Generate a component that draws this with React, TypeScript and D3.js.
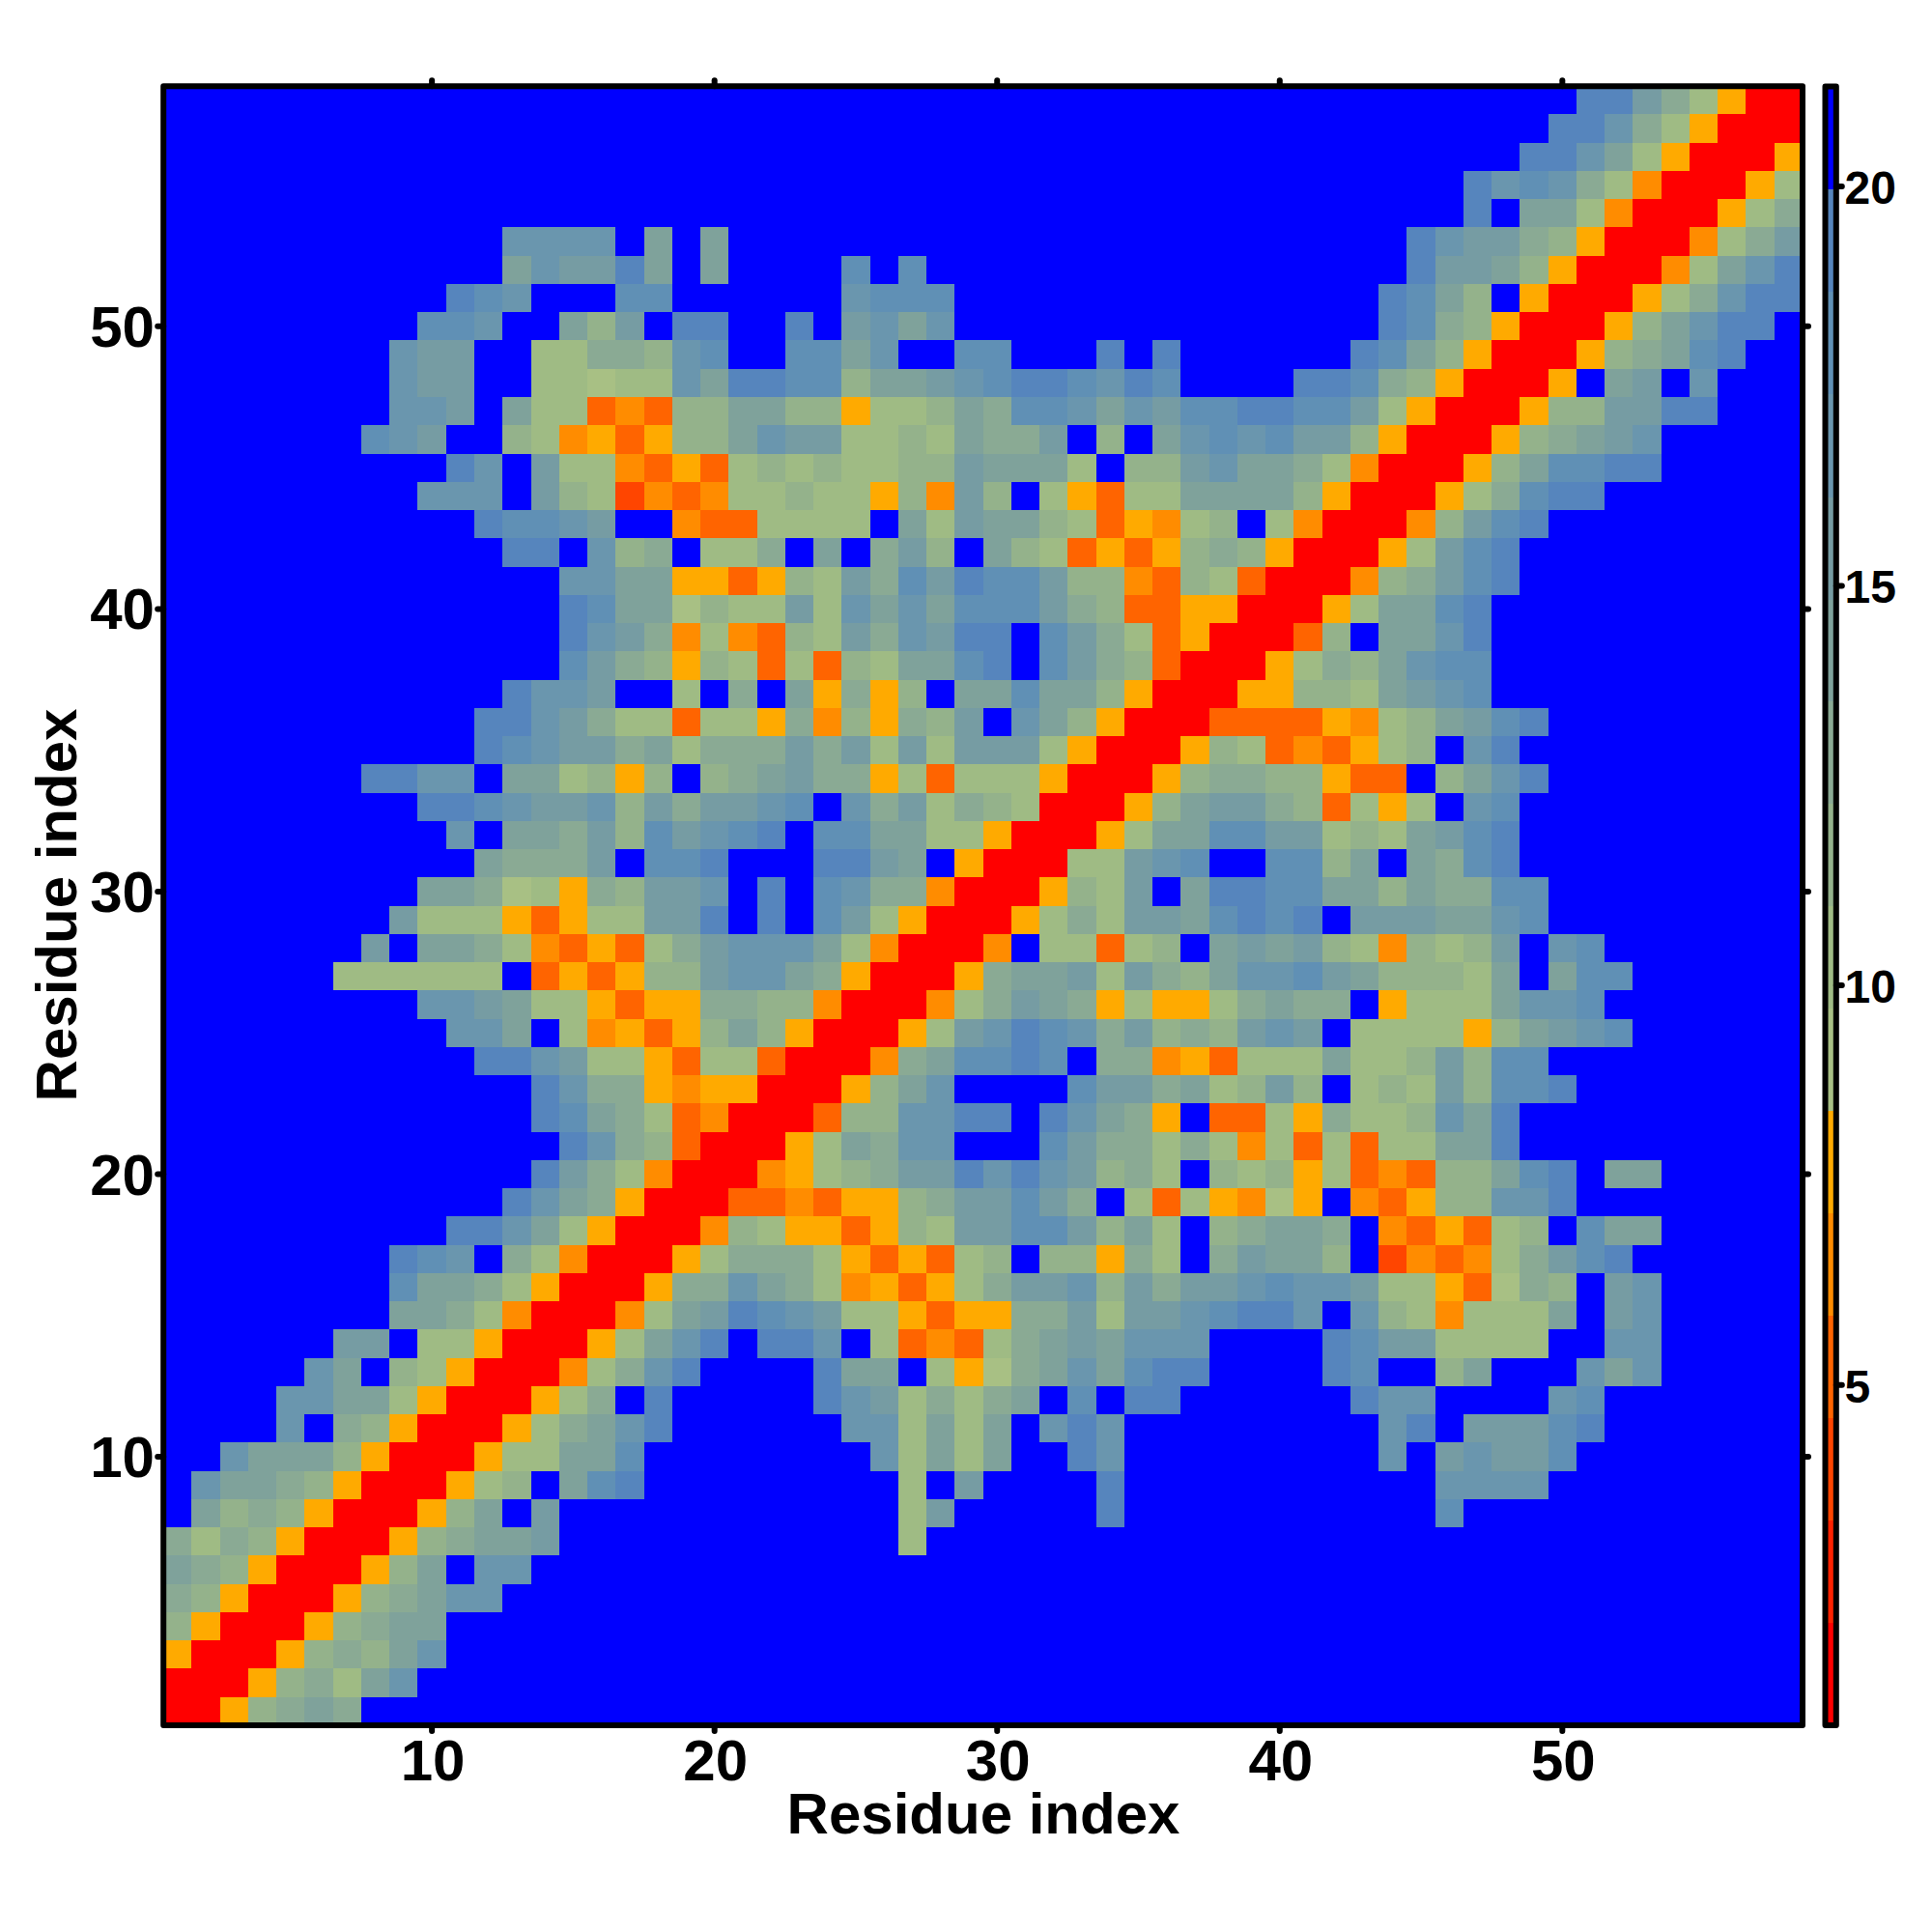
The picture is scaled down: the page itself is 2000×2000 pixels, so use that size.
import React from "react";
import * as d3 from "d3";

// Lower triangle of the symmetric matrix: row y holds columns rowStart[y-1]..y as bin digits; columns before rowStart are off-scale
const rowStart = [1,1,1,1,1,1,1,2,2,3,5,5,6,7,9,9,9,11,13,14,15,14,14,12,11,10,7,8,9,10,12,11,10,8,12,12,13,15,15,15,15,13,12,10,11,8,9,9,9,10,11,13,13,47,47,49,50,51];
const rowBins = [
  "0",
  "00",
  "500",
  "8500",
  "98500",
  "a98500",
  "9798500",
  "a898500",
  "caa98500",
  "caaa8500",
  "cf98500",
  "ccaa7500",
  "caf87500",
  "bbf77500",
  "aa97400",
  "daa97500",
  "edcf97400",
  "eeca7500",
  "eca9500",
  "eb97400",
  "ec98300",
  "eda973400",
  "ec99545500",
  "eecb775377300",
  "ccaf745358a8500",
  "ccba7753559988400",
  "777777f353588bcca9500",
  "bfaa97435379bccca7400",
  "b77753577bbefefdb7500",
  "aa967598bbcfefdc99400",
  "a999bfddefffeebaf500",
  "cfaa9b8dbcdefddaa77500",
  "eedcbbc8b9bbcdfc9b798700",
  "eeccfaa7858f89ab99573777500",
  "edcbb9a7999b9b7b7bbb7500",
  "eecb9773775948598bfca8500",
  "eccbff7f9fa5958faadaa8500",
  "db9858737387aadefdb98300",
  "ecb9474387b9cbeefdb973500",
  "edaa6877b7cacadddb98335500",
  "ccaa553587b9dbeddb884387300",
  "eefc89f779faf9b8fa873535898500",
  "eddcbff4337777fa7baa8735478f7400",
  "cccfb87243477877584b8f75377aaaa8500",
  "ecfb77435378787788baaa7f88bcaa97400",
  "dcbff87453588acbb7787a99bf8facdcdbb8500",
  "ccbfa7734388aa885778a9ddcacbddeeddb7500",
  "cbbff77677caeedd8aabcdeedcedffffeed98500",
  "cbbff77998cdffddacffddfffefe" + "f".repeat(6) + "eda8500",
  "ddcffa8bfeeffefbcac" + "f".repeat(15) + "ed98500",
  "edcfffddffffffcddd" + "f".repeat(15) + "eda8f500",
  "acbbeafaffffdfd" + "f".repeat(17) + "ebba8500",
  "ccccfafa" + "f".repeat(24) + "ecbb98500",
  "efaa7400",
  "ecdc97400",
  "eeca7500",
  "eec97500",
  "eeb97500",
];

const levelBreaks = [0.74, 2.02, 3.3, 4.58, 5.87, 7.15, 8.43, 9.71, 10.99, 12.27, 13.55, 14.83, 16.11, 17.4, 18.68, 19.96, 21.25];
const levelColors = [
  "#ff0000", "#ff2200", "#ff4500", "#ff6400", "#ff8c00", "#ffaa00",
  "#a8c084", "#9fbb84", "#94b28b", "#8aaa94", "#7fa29b", "#769ca3", "#6a96ae", "#6090b5", "#5685bd",
  "#0000ff",
];
const axisTicks = [10, 20, 30, 40, 50];
const barTicks = [5, 10, 15, 20];
const axisTitle = "Residue index";

const N = 58;
const FONT = "'Liberation Sans', Arial, Helvetica, sans-serif";
const color = d3.scaleThreshold<number, string>().domain(levelBreaks.slice(1, -1)).range(levelColors);
const x = d3.scaleLinear().domain([0.5, N + 0.5]).range([169.2, 1866]);
const y = d3.scaleLinear().domain([0.5, N + 0.5]).range([1786, 89.2]);
const barY = d3.scaleLinear().domain([0.74, 21.25]).range([1786, 89.5]);

const binValue = (bin: number) => (levelBreaks[bin] + levelBreaks[bin + 1]) / 2;
const offScale = binValue(15);
const cellValue = (col: number, row: number) => {
  const hi = Math.max(col, row);
  const lo = Math.min(col, row);
  const start = rowStart[hi - 1];
  if (lo < start) return offScale;
  return binValue(parseInt(rowBins[hi - 1][lo - start], 16));
};
const cells = d3.range(1, N + 1).flatMap((row) =>
  d3.range(1, N + 1).map((col) => ({ col, row, value: cellValue(col, row) }))
);

export default function App() {
  const frame = { stroke: "#000", strokeWidth: 6, fill: "none", strokeLinejoin: "round" as const };
  const tick = { stroke: "#000", strokeWidth: 6, strokeLinecap: "round" as const };
  const len = 6;
  return (
    <svg
      width={2000}
      height={2000}
      viewBox="0 0 2000 2000"
      style={{ position: "absolute", left: 0, top: 0, display: "block", background: "#fff" }}
      fontFamily={FONT}
      fontWeight="bold"
      fill="#000"
    >
      <g shapeRendering="crispEdges">
        {cells.map((c) => (
          <rect
            key={`${c.col}-${c.row}`}
            x={x(c.col - 0.5)}
            y={y(c.row + 0.5)}
            width={x(c.col + 0.5) - x(c.col - 0.5)}
            height={y(c.row - 0.5) - y(c.row + 0.5)}
            fill={color(c.value)}
          />
        ))}
      </g>
      {axisTicks.map((t) => (
        <g key={t}>
          <line x1={x(t)} x2={x(t)} y1={1786} y2={1786 + len} {...tick} />
          <line x1={x(t)} x2={x(t)} y1={89.2} y2={89.2 - len} {...tick} />
          <line y1={y(t)} y2={y(t)} x1={169.2} x2={169.2 - len} {...tick} />
          <line y1={y(t)} y2={y(t)} x1={1866} x2={1866 + len} {...tick} />
          <text x={x(t) + 1} y={1843} textAnchor="middle" fontSize={60}>{t}</text>
          <text x={160} y={y(t) + 21} textAnchor="end" fontSize={60}>{t}</text>
        </g>
      ))}
      <rect x={169.2} y={89.2} width={1696.8} height={1696.8} {...frame} />
      <text x={1018} y={1898} textAnchor="middle" fontSize={60}>{axisTitle}</text>
      <text transform={`translate(79,937) rotate(-90)`} textAnchor="middle" fontSize={60}>{axisTitle}</text>

      <g shapeRendering="crispEdges">
        {levelColors.map((c, i) => (
          <rect
            key={c}
            x={1889.5}
            y={barY(levelBreaks[i + 1])}
            width={11.3}
            height={barY(levelBreaks[i]) - barY(levelBreaks[i + 1])}
            fill={c}
          />
        ))}
      </g>
      <rect x={1889.5} y={89.5} width={11.3} height={1696.5} {...frame} />
      {barTicks.map((t) => (
        <g key={t}>
          <line x1={1900.8} x2={1900.8 + len} y1={barY(t)} y2={barY(t)} {...tick} />
          <text x={1909.5} y={barY(t) + 18} fontSize={48}>{t}</text>
        </g>
      ))}
    </svg>
  );
}
